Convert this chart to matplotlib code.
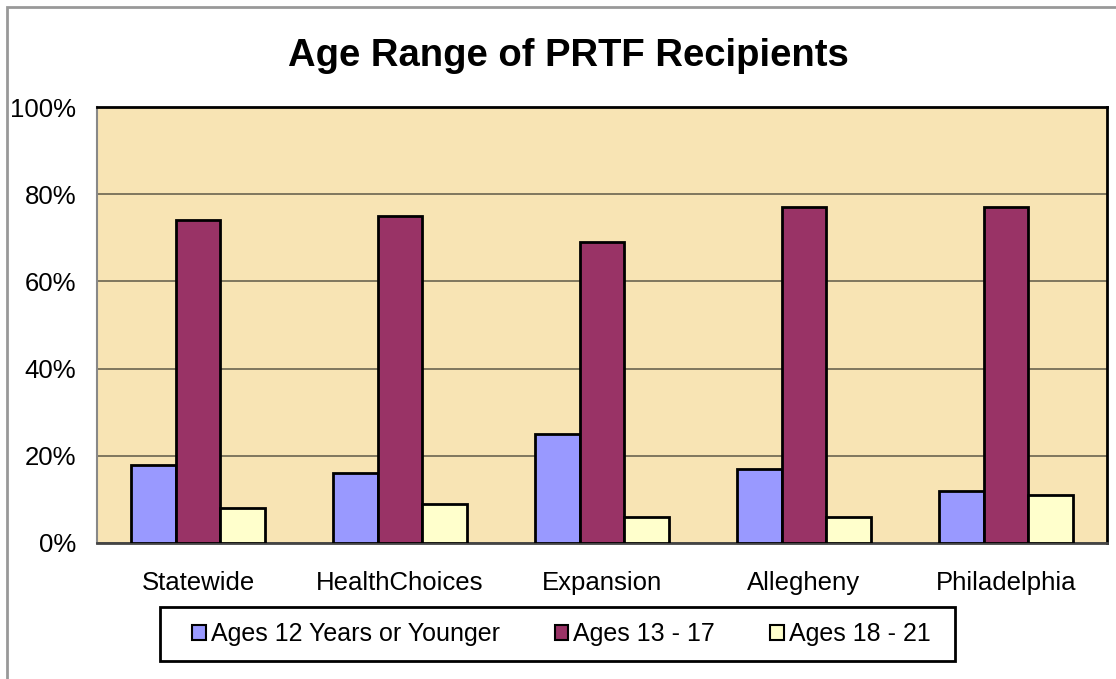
import matplotlib.pyplot as plt
import numpy as np
from matplotlib.patches import Rectangle

plt.rcParams['font.family'] = ['Liberation Sans', 'DejaVu Sans']

regions = ["Statewide", "HealthChoices", "Expansion", "Allegheny", "Philadelphia"]
ages_12 = [18, 16, 25, 17, 12]
ages_13_17 = [74, 75, 69, 77, 77]
ages_18_21 = [8, 9, 6, 6, 11]
series = ["Ages 12 Years or Younger", "Ages 13 - 17", "Ages 18 - 21"]
colors = ["#9999FF", "#993366", "#FFFFCC"]

fig = plt.figure(figsize=(11.16, 6.79), dpi=100)
ax = fig.add_axes([0.0869, 0.2003, 0.905, 0.6421])
ax.set_facecolor("#F8E4B4")

x = np.arange(len(regions))
w = 0.222
for i, vals in enumerate([ages_12, ages_13_17, ages_18_21]):
    ax.bar(x + (i - 1) * w, vals, w, color=colors[i], edgecolor="black",
           linewidth=2, label=series[i], zorder=3)

ax.set_xlim(-0.5, len(regions) - 0.5)
ax.set_ylim(0, 100)
ax.set_yticks([0, 20, 40, 60, 80, 100])
ax.set_yticklabels([f"{v}%" for v in [0, 20, 40, 60, 80, 100]])
ax.set_xticks(x)
ax.set_xticklabels(regions)
ax.tick_params(axis="both", length=0, labelsize=18.5)
ax.tick_params(axis="x", pad=20)
ax.tick_params(axis="y", pad=15)
ax.yaxis.grid(True, color="#6B6450", linewidth=1.2, zorder=1)
for s in ["top", "right"]:
    ax.spines[s].set_linewidth(2)
    ax.spines[s].set_color("black")
ax.spines["left"].set_color("#888888")
ax.spines["left"].set_linewidth(1.5)
ax.spines["bottom"].set_color("#444444")
ax.spines["bottom"].set_linewidth(2)

fig.text(0.509, 0.918, "Age Range of PRTF Recipients", ha="center", va="center",
         fontsize=27.5, fontweight="bold")

leg = fig.legend(loc="center", bbox_to_anchor=(0.503, 0.0663), ncol=3, frameon=False,
                 fontsize=18, handlelength=0.55, handleheight=0.55,
                 handletextpad=0.2, columnspacing=2.2)
for h in leg.legend_handles:
    h.set_linewidth(1.5)

fig.patches.append(Rectangle((0.1434, 0.0265), 0.7123, 0.0795, transform=fig.transFigure,
                             fill=False, edgecolor="black", linewidth=2))
fig.patches.append(Rectangle((0.0063, -0.01), 1.1, 1.0, transform=fig.transFigure,
                             fill=False, edgecolor="#999999", linewidth=2))

fig.savefig("out.png", dpi=100)
